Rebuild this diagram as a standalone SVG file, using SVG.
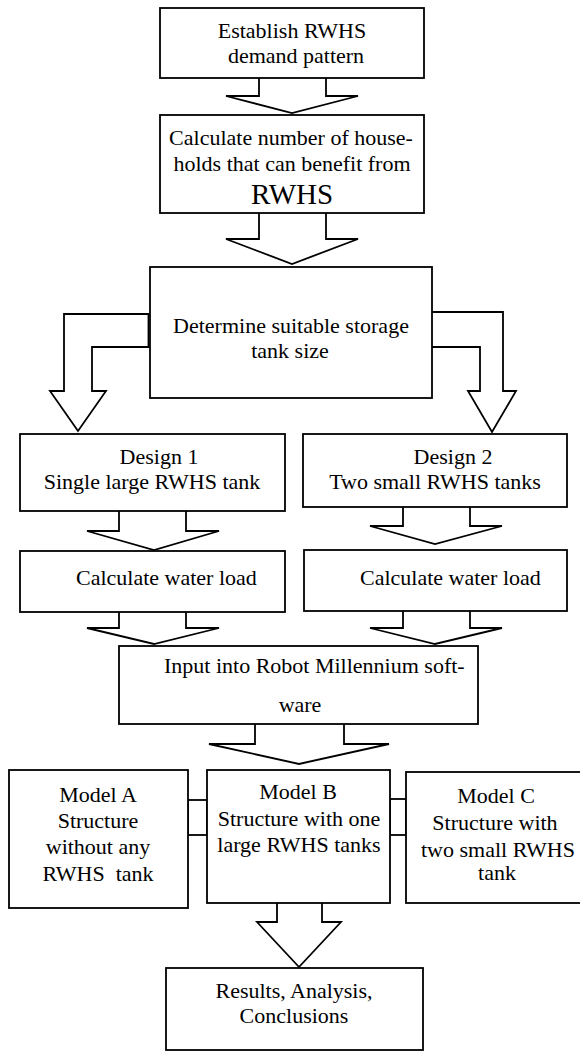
<svg xmlns="http://www.w3.org/2000/svg" width="580" height="1051" viewBox="0 0 580 1051">
<style>
.b{fill:#fff;stroke:#000;stroke-width:1.8}
.a{fill:#fff;stroke:#000;stroke-width:1.8;stroke-linejoin:miter}
.t{font-family:'Liberation Serif','Times New Roman',Tinos,'DejaVu Serif',serif;font-size:22px;fill:#000;text-anchor:middle}
.s{text-anchor:start}
</style>
<rect width="580" height="1051" fill="#fff"/>
<g id="connectors">
<path class="a" d="M259,78 V96 H226 L292,113 L358,96 H326 V78"/>
<path class="a" d="M259,213 V239 H226 L292,264 L358,239 H326 V213"/>
<path class="a" d="M148.5,314 H64 V391 H50 L78,431 L106,391 H92 V347 H148.5 Z"/>
<path class="a" d="M432,312 H503 V391 H516 L492,432 L468,391 H480 V347 H432"/>
<path class="a" d="M119,511 V531 H87 L154,550 L219,531 H186 V511"/>
<path class="a" d="M403,507 V526 H370 L435,544 L502,526 H470 V507"/>
<path class="a" d="M119,612 V628 H87 L154,644 L219,628 H186 V612"/>
<path class="a" d="M403,611 V628 H370 L435,644 L502,628 H470 V611"/>
<path class="a" d="M255,724 V744 H209 L299,764 L389,744 H344 V724"/>
<path class="a" d="M277,903 V922 H257 L299,967 L341,922 H322 V903"/>
<rect class="a" x="188" y="800" width="19" height="35"/>
<rect class="a" x="390" y="799" width="16" height="36"/>
</g>
<g id="n1">
<rect class="b" x="160" y="8" width="264" height="70"/>
<text class="t" font-family="Liberation Serif" x="292" y="38">Establish RWHS</text>
<text class="t" x="296" y="63">demand pattern</text>
</g>
<g id="n2">
<rect class="b" x="160" y="115" width="264" height="98"/>
<text class="t" x="291" y="145">Calculate number of house-</text>
<text class="t" x="292" y="171">holds that can benefit from</text>
<text class="t" x="292" y="204" style="font-size:29px">RWHS</text>
</g>
<g id="n3">
<rect class="b" x="150" y="267" width="282" height="131"/>
<text class="t" x="291" y="333">Determine suitable storage</text>
<text class="t" x="290" y="358">tank size</text>
</g>
<g id="n4">
<rect class="b" x="20" y="434" width="265" height="77"/>
<text class="t" x="159" y="464">Design 1</text>
<text class="t" x="152" y="489">Single large RWHS tank</text>
</g>
<g id="n5">
<rect class="b" x="303" y="434" width="264" height="73"/>
<text class="t" x="453" y="464">Design 2</text>
<text class="t" x="435" y="489">Two small RWHS tanks</text>
</g>
<g id="n6">
<rect class="b" x="20" y="551" width="265" height="61"/>
<text class="t s" x="76" y="585">Calculate water load</text>
</g>
<g id="n7">
<rect class="b" x="304" y="550" width="263" height="61"/>
<text class="t s" x="360" y="585">Calculate water load</text>
</g>
<g id="n8">
<rect class="b" x="119" y="646" width="359" height="78"/>
<text class="t s" x="164" y="673">Input into Robot Millennium soft-</text>
<text class="t" x="300" y="712">ware</text>
</g>
<g id="n9">
<rect class="b" x="9" y="770" width="179" height="138"/>
<text class="t" x="98" y="802">Model A</text>
<text class="t" x="98" y="828">Structure</text>
<text class="t" x="98" y="854">without any</text>
<text class="t" x="98" y="881" xml:space="preserve">RWHS  tank</text>
</g>
<g id="n10">
<rect class="b" x="207" y="770" width="183" height="133"/>
<text class="t" x="298" y="799">Model B</text>
<text class="t" x="299" y="826">Structure with one</text>
<text class="t" x="299" y="852">large RWHS tanks</text>
</g>
<g id="n11">
<rect class="b" x="406" y="772" width="177" height="131"/>
<text class="t" x="496" y="803">Model C</text>
<text class="t" x="495" y="830">Structure with</text>
<text class="t" x="498" y="857">two small RWHS</text>
<text class="t" x="497" y="880">tank</text>
</g>
<g id="n12">
<rect class="b" x="166" y="968" width="257" height="82"/>
<text class="t" x="294" y="998">Results, Analysis,</text>
<text class="t" x="294" y="1023">Conclusions</text>
</g>
</svg>
